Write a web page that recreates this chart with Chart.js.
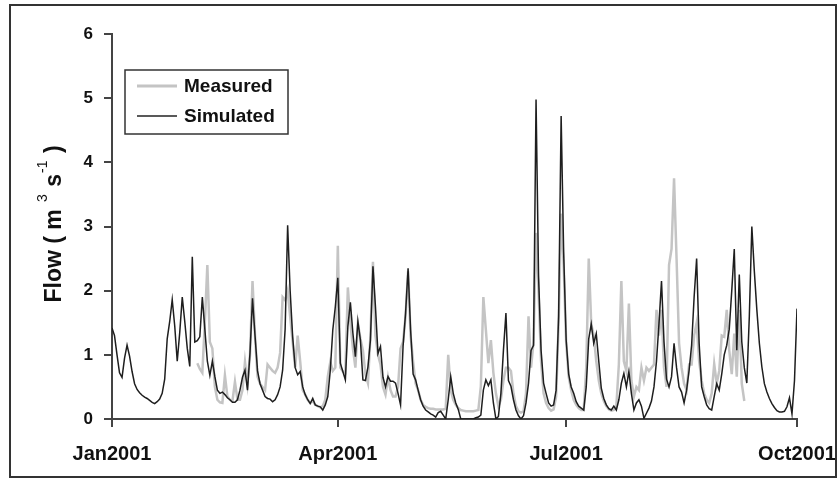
<!DOCTYPE html>
<html>
<head>
<meta charset="utf-8">
<script src="https://cdn.jsdelivr.net/npm/chart.js@4.4.1/dist/chart.umd.min.js"></script>
<style>
  html, body { margin: 0; padding: 0; background: #fff; }
  #wrap { width: 838px; height: 480px; }
</style>
</head>
<body>
<div id="wrap"><canvas id="chart" width="838" height="480"></canvas></div>
<script>
// Daily flow, Jan 1 2001 (day 0) .. Oct 1 2001 (day 273)
const tickDays = [0, 90, 181, 273];
const tickLabels = ['Jan2001', 'Apr2001', 'Jul2001', 'Oct2001'];

const simulated = [
  1.42, 1.30, 1.00, 0.72, 0.65, 0.95, 1.15, 0.98, 0.74, 0.55,
  0.46, 0.41, 0.37, 0.34, 0.32, 0.29, 0.26, 0.24, 0.27, 0.31,
  0.40, 0.62, 1.25, 1.52, 1.86, 1.45, 0.90, 1.35, 1.90, 1.52,
  1.10, 0.82, 2.53, 1.20, 1.22, 1.28, 1.90, 1.40, 0.90, 0.68,
  0.90, 0.66, 0.45, 0.40, 0.42, 0.38, 0.33, 0.30, 0.26, 0.26,
  0.30, 0.45, 0.65, 0.76, 0.45, 1.03, 1.88, 1.30, 0.75, 0.55,
  0.45, 0.35, 0.32, 0.31, 0.27, 0.30, 0.38, 0.50, 0.76, 1.40,
  3.02, 2.00, 1.28, 0.80, 0.69, 0.74, 0.50, 0.38, 0.30, 0.24,
  0.32, 0.22, 0.20, 0.19, 0.14, 0.22, 0.35, 0.76, 1.39, 1.75,
  2.20, 0.87, 0.74, 0.61, 1.44, 1.82, 1.34, 0.97, 1.52, 1.23,
  0.61, 0.60, 0.81, 1.23, 2.38, 1.75, 1.02, 1.13, 0.65, 0.50,
  0.66, 0.59, 0.59, 0.56, 0.40, 0.22, 1.13, 1.65, 2.35, 1.39,
  0.70, 0.61, 0.45, 0.30, 0.20, 0.14, 0.11, 0.08, 0.06, 0.03,
  0.10, 0.12, 0.06, 0.00, 0.30, 0.66, 0.40, 0.25, 0.15, 0.00,
  0.00, 0.00, 0.00, 0.00, 0.00, 0.02, 0.03, 0.06, 0.45, 0.61,
  0.52, 0.61, 0.25, 0.00, 0.04, 0.40, 1.07, 1.65, 0.60, 0.51,
  0.30, 0.14, 0.05, 0.00, 0.05, 0.25, 0.56, 1.07, 1.15, 4.98,
  2.22, 1.07, 0.56, 0.40, 0.25, 0.20, 0.22, 0.45, 1.60, 4.72,
  2.60, 1.23, 0.70, 0.50, 0.40, 0.27, 0.20, 0.17, 0.14, 0.50,
  1.25, 1.48, 1.18, 1.33, 0.90, 0.48, 0.32, 0.22, 0.16, 0.14,
  0.20, 0.14, 0.30, 0.56, 0.71, 0.50, 0.74, 0.40, 0.14, 0.25,
  0.30, 0.20, 0.01, 0.09, 0.17, 0.28, 0.50, 0.90, 1.49, 2.15,
  1.20, 0.62, 0.50, 0.66, 1.18, 0.80, 0.50, 0.42, 0.25, 0.45,
  0.76, 1.15, 1.90, 2.50, 1.18, 0.50, 0.35, 0.22, 0.16, 0.14,
  0.35, 0.55, 0.45, 0.70, 1.00, 1.15, 1.40, 2.00, 2.65, 1.07,
  2.25, 1.20, 0.80, 0.56, 1.60, 3.00, 2.30, 1.70, 1.18, 0.81,
  0.55, 0.42, 0.32, 0.24, 0.18, 0.13, 0.11, 0.11, 0.12, 0.19,
  0.33, 0.08, 0.60, 1.72
];

// measured record runs from day 34 to day 252
const measuredStart = 34;
const measured = [
  0.87, 0.78, 0.72, 1.50, 2.40, 1.20, 1.10, 0.50, 0.30, 0.26,
  0.25, 0.68, 0.35, 0.30, 0.28, 0.58, 0.30, 0.30, 0.45, 0.89,
  0.55, 1.00, 2.15, 1.30, 0.66, 0.55, 0.50, 0.45, 0.85, 0.80,
  0.75, 0.72, 0.80, 1.03, 1.90, 1.85, 2.00, 1.60, 1.20, 0.80,
  1.30, 0.90, 0.45, 0.38, 0.30, 0.25, 0.28, 0.22, 0.20, 0.18,
  0.20, 0.30, 0.66, 0.89, 0.75, 0.80, 2.70, 0.80, 0.74, 0.72,
  2.05, 1.50, 1.10, 0.80, 1.49, 1.25, 1.07, 0.70, 0.56, 1.30,
  2.45, 1.30, 1.00, 0.85, 0.50, 0.38, 0.65, 0.45, 0.35, 0.35,
  0.50, 1.10, 1.20, 1.60, 2.30, 1.30, 0.90, 0.55, 0.45, 0.30,
  0.22, 0.19, 0.17, 0.16, 0.16, 0.15, 0.15, 0.15, 0.15, 0.16,
  1.00, 0.45, 0.30, 0.22, 0.17, 0.14, 0.13, 0.12, 0.12, 0.12,
  0.12, 0.13, 0.14, 0.51, 1.90, 1.39, 0.87, 1.23, 0.72, 0.40,
  0.20, 0.30, 0.60, 0.80, 0.80, 0.75, 0.40, 0.20, 0.12, 0.10,
  0.12, 0.40, 1.60, 0.80, 1.20, 2.90, 2.00, 0.90, 0.40, 0.25,
  0.17, 0.13, 0.15, 0.35, 1.50, 3.20, 2.40, 1.20, 0.66, 0.45,
  0.30, 0.22, 0.17, 0.14, 0.14, 0.80, 2.50, 1.48, 1.30, 0.90,
  0.60, 0.40, 0.28, 0.20, 0.15, 0.13, 0.14, 0.20, 0.85, 2.15,
  0.90, 0.75, 1.80, 0.60, 0.35, 0.50, 0.45, 0.80, 0.60, 0.80,
  0.75, 0.80, 0.85, 1.70, 1.30, 1.70, 0.80, 0.50, 2.40, 2.65,
  3.75, 2.50, 1.18, 0.80, 0.55, 0.45, 0.85, 0.85, 1.30, 1.50,
  0.90, 0.60, 0.40, 0.30, 0.25, 0.40, 0.86, 0.55, 0.75, 1.30,
  1.28, 1.70, 1.07, 0.70, 1.33, 0.66, 1.70, 0.55, 0.28
];

const FONT = '"Liberation Sans", Arial, sans-serif';

// frame, axis title with superscripts, legend box
const decorations = {
  id: 'decorations',
  afterDraw(chart) {
    const ctx = chart.ctx;
    ctx.save();

    // outer frame
    ctx.strokeStyle = '#333';
    ctx.lineWidth = 2;
    ctx.strokeRect(10, 5, 826, 472);

    // y axis title: Flow ( m 3 s -1 )
    const parts = [
      { t: 'Flow ( m ', sup: false },
      { t: '3', sup: true },
      { t: ' s', sup: false },
      { t: '-1', sup: true },
      { t: ' )', sup: false }
    ];
    const big = 'bold 23px ' + FONT;
    const small = '14px ' + FONT;
    let total = 0;
    parts.forEach(p => {
      ctx.font = p.sup ? small : big;
      p.w = ctx.measureText(p.t).width + (p.sup ? 2 : 0);
      total += p.w;
    });
    ctx.translate(55, 224);
    ctx.rotate(-Math.PI / 2);
    ctx.fillStyle = '#111';
    ctx.textBaseline = 'middle';
    ctx.textAlign = 'left';
    let x = -total / 2;
    parts.forEach(p => {
      ctx.font = p.sup ? small : big;
      ctx.fillText(p.t, x + (p.sup ? 1 : 0), p.sup ? -12 : 0);
      x += p.w;
    });
    ctx.restore();

    // legend
    ctx.save();
    ctx.strokeStyle = '#333';
    ctx.lineWidth = 1.5;
    ctx.strokeRect(125, 70, 163, 64);
    const items = [
      { label: chart.data.datasets[1].label, color: '#c4c4c4', width: 3, y: 86 },
      { label: chart.data.datasets[0].label, color: '#222', width: 1.5, y: 116 }
    ];
    ctx.font = 'bold 19px ' + FONT;
    ctx.textBaseline = 'middle';
    ctx.fillStyle = '#111';
    items.forEach(it => {
      ctx.strokeStyle = it.color;
      ctx.lineWidth = it.width;
      ctx.beginPath();
      ctx.moveTo(137, it.y);
      ctx.lineTo(177, it.y);
      ctx.stroke();
      ctx.fillText(it.label, 184, it.y + 1);
    });
    ctx.restore();
  }
};

const ctx = document.getElementById('chart').getContext('2d');
const chart = new Chart(ctx, {
  type: 'line',
  data: {
    datasets: [{
      label: 'Simulated',
      data: simulated.map((v, i) => ({ x: i, y: v })),
      borderColor: '#1e1e1e',
      borderWidth: 1.5,
      pointRadius: 0,
      tension: 0,
      order: 0
    }, {
      label: 'Measured',
      data: measured.map((v, i) => ({ x: i + measuredStart, y: v })),
      borderColor: '#c4c4c4',
      borderWidth: 2.5,
      pointRadius: 0,
      tension: 0,
      order: 1
    }]
  },
  options: {
    responsive: false,
    animation: false,
    layout: { padding: { top: 34, right: 41, left: 0, bottom: 0 } },
    plugins: {
      legend: { display: false },
      tooltip: { enabled: false }
    },
    scales: {
      x: {
        type: 'linear',
        min: 0,
        max: 273,
        afterBuildTicks: (scale) => { scale.ticks = tickDays.map(v => ({ value: v })); },
        afterFit: (scale) => {
          scale.height = 61;
          scale.paddingLeft = 0;
          scale.paddingRight = 0;
        },
        ticks: {
          autoSkip: false,
          maxRotation: 0,
          padding: 15,
          color: '#111',
          font: { family: FONT, size: 20, weight: 'bold' },
          callback: (value) => tickLabels[tickDays.indexOf(value)]
        },
        grid: { drawOnChartArea: false, drawTicks: true, tickLength: 8, color: '#444', lineWidth: 2 },
        border: { display: true, color: '#444', width: 2 }
      },
      y: {
        min: 0,
        max: 6,
        afterFit: (scale) => {
          scale.width = 112;
          scale.paddingTop = 0;
          scale.paddingBottom = 0;
        },
        ticks: {
          stepSize: 1,
          padding: 11,
          color: '#111',
          font: { family: FONT, size: 17, weight: 'bold' }
        },
        grid: { drawOnChartArea: false, drawTicks: true, tickLength: 8, color: '#444', lineWidth: 2 },
        border: { display: true, color: '#444', width: 2 }
      }
    }
  },
  plugins: [decorations]
});
</script>
</body>
</html>
